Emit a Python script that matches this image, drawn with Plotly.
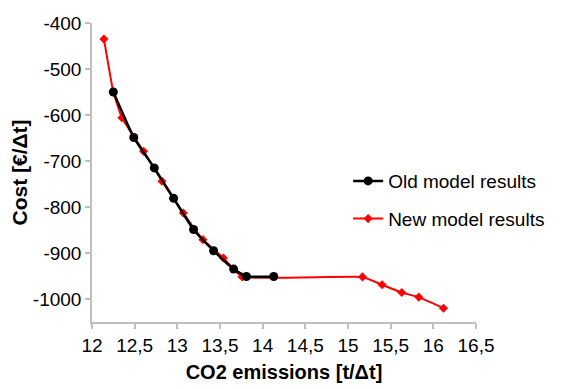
import plotly.graph_objects as go

old_x = [12.25, 12.49, 12.73, 12.956, 13.19, 13.425, 13.66, 13.81, 14.13]
old_y = [-550, -649, -715, -781, -849, -895, -935, -951, -951]

new_x = [12.14, 12.25, 12.35, 12.605, 12.82, 13.07, 13.30, 13.54, 13.76, 15.17, 15.40, 15.63, 15.83, 16.12]
new_y = [-435, -550, -606, -679, -744, -813, -871, -911, -952, -952, -969, -986, -996, -1020]

x_ticks = [12, 12.5, 13, 13.5, 14, 14.5, 15, 15.5, 16, 16.5]
y_ticks = [-1000, -900, -800, -700, -600, -500, -400]

FONT = "Liberation Sans"

fig = go.Figure()
fig.add_trace(go.Scatter(
    x=new_x, y=new_y, name="New model results", mode="lines+markers",
    line=dict(color="#ff0000", width=2, shape="spline", smoothing=0.3),
    marker=dict(symbol="diamond", size=7, color="#ff0000"),
    legendgroup="b", legendrank=2,
))
fig.add_trace(go.Scatter(
    x=old_x, y=old_y, name="Old model results", mode="lines+markers",
    line=dict(color="black", width=2.5, shape="spline", smoothing=0.4),
    marker=dict(symbol="circle", size=9, color="black"),
    legendgroup="a", legendrank=1,
))

fig.update_layout(
    width=556, height=381,
    margin=dict(l=84, r=88, t=15, b=67),
    paper_bgcolor="white", plot_bgcolor="white",
    font=dict(family=FONT, color="black", size=17),
    legend=dict(x=0.667, y=0.535, xanchor="left", yanchor="top",
                traceorder="grouped", tracegroupgap=10,
                font=dict(size=19, family=FONT), bgcolor="rgba(0,0,0,0)"),
    xaxis=dict(range=[12, 16.5], tickvals=x_ticks,
               ticktext=[f"{v:g}".replace(".", ",") for v in x_ticks],
               showgrid=False, zeroline=False, automargin=False,
               showline=True, linecolor="#bfbfbf", linewidth=1.5,
               ticks="outside", ticklen=5, tickcolor="#bfbfbf", tickwidth=1.5,
               tickfont=dict(size=19, family=FONT),
               title=dict(text="<b>CO2 emissions [t/Δt]</b>", font=dict(size=20, family=FONT), standoff=10)),
    yaxis=dict(range=[-1050, -400], tickvals=y_ticks,
               ticktext=[str(v) for v in y_ticks],
               showgrid=False, zeroline=False, automargin=False,
               showline=True, linecolor="#bfbfbf", linewidth=1.5,
               ticks="outside", ticklen=5, tickcolor="#bfbfbf", tickwidth=1.5,
               tickfont=dict(size=19, family=FONT),
               title=dict(text="<b>Cost [€/Δt]</b>", font=dict(size=21, family=FONT), standoff=0)),
)

fig.write_html("out.html")
